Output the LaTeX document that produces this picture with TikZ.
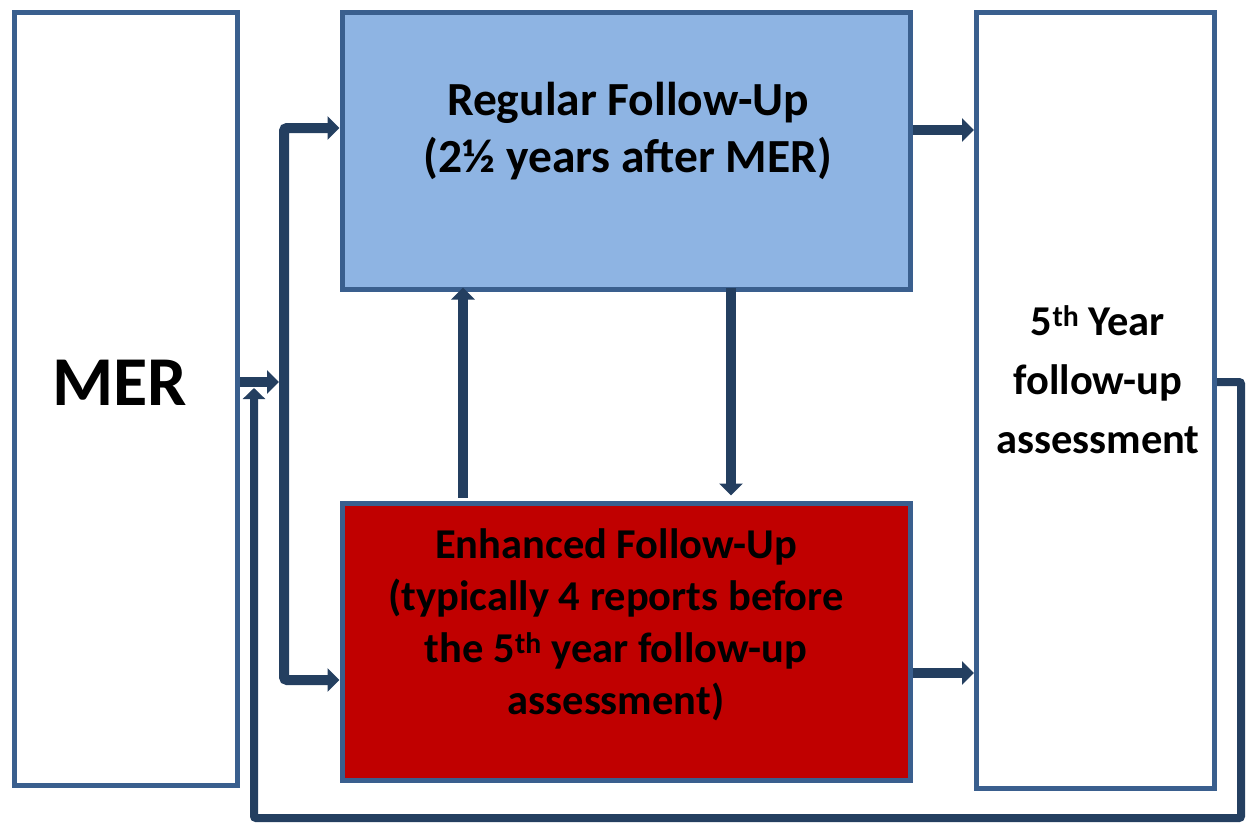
\documentclass[tikz,border=0pt]{standalone}
\usepackage{fontspec}
\setmainfont{Carlito}
\usetikzlibrary{arrows.meta,calc}
\definecolor{boxborder}{HTML}{3A5F8E}
\definecolor{regfill}{HTML}{8EB4E3}
\definecolor{enhfill}{HTML}{C00000}
\definecolor{arrowcol}{HTML}{243F60}
\tikzset{
  box/.style={draw=boxborder, line width=5pt, inner sep=0pt, rectangle},
  txt/.style={align=center, inner sep=0pt, text=black},
  arr/.style={draw=arrowcol, line width=10pt, -{Triangle[width=23pt,length=12pt]}},
  dblarr/.style={draw=arrowcol, line width=10pt, rounded corners=3pt,
     {Triangle[width=23pt,length=12pt]}-{Triangle[width=23pt,length=12pt]}},
  retarr/.style={draw=arrowcol, line width=8pt, rounded corners=2pt, -{Triangle[width=22pt,length=11pt]}}
}
\begin{document}
\begin{tikzpicture}[x=1pt,y=-1pt]
\useasboundingbox (0,0) rectangle (1248,823);
% boxes
\node[box, fill=white, minimum width=223.5pt, minimum height=773pt] (mer) at (125.75,398.5) {};
\node[box, fill=regfill, minimum width=568pt, minimum height=277pt] (reg) at (626,150.5) {};
\node[box, fill=enhfill, minimum width=568pt, minimum height=277pt] (enh) at (626,641.5) {};
\node[box, fill=white, minimum width=238pt, minimum height=776pt] (fifth) at (1095.5,400) {};
% texts
\node[txt, font=\fontsize{70}{84}\selectfont\bfseries] (mertxt) at (120,383) {MER};
\node[txt, font=\fontsize{47.5}{57.5}\selectfont\bfseries] (regtxt) at (628,131) {Regular Follow-Up\\(2½ years after MER)};
\node[txt, font=\fontsize{42.5}{52}\selectfont\bfseries] (enhtxt) at (616,624.5) {Enhanced Follow-Up\\(typically 4 reports before\\the 5\textsuperscript{th} year follow-up\\assessment)};
\node[txt, font=\fontsize{42.5}{59}\selectfont\bfseries] (fifthtxt) at (1098,379.5) {5\textsuperscript{th} Year\\follow-up\\assessment};
% helper coordinates
\coordinate (split) at (284,382);
\coordinate (splitT) at (284,128);
\coordinate (splitB) at (284,680);
\coordinate (rowTop) at (0,130);
\coordinate (rowBot) at (0,673);
\coordinate (upx) at (463,0);
\coordinate (downx) at (731,0);
\coordinate (retR) at (1241,382);
\coordinate (retB) at (1241,818);
\coordinate (retL) at (254,818);
\coordinate (retTip) at (254,388);
% MER to splitter
\draw[arr] (mer.east |- split) -- ($(split)+(-5,0)$);
% splitter to both boxes
\draw[dblarr] (reg.west |- splitT) -- (splitT) -- (splitB) -- (enh.west |- splitB);
% vertical arrows between boxes
\draw[arr] ($(enh.north -| upx)+(0,-3)$) -- ($(reg.south -| upx)+(0,-4)$);
\draw[arr] ($(reg.south -| downx)+(0,-4)$) -- ($(enh.north -| downx)+(0,-5)$);
% right arrows
\draw[arr] (reg.east |- rowTop) -- (fifth.west |- rowTop);
\draw[arr] (enh.east |- rowBot) -- (fifth.west |- rowBot);
% return path
\draw[retarr] (fifth.east |- retR) -- (retR) -- (retB) -- (retL) -- (retTip);
\end{tikzpicture}
\end{document}
